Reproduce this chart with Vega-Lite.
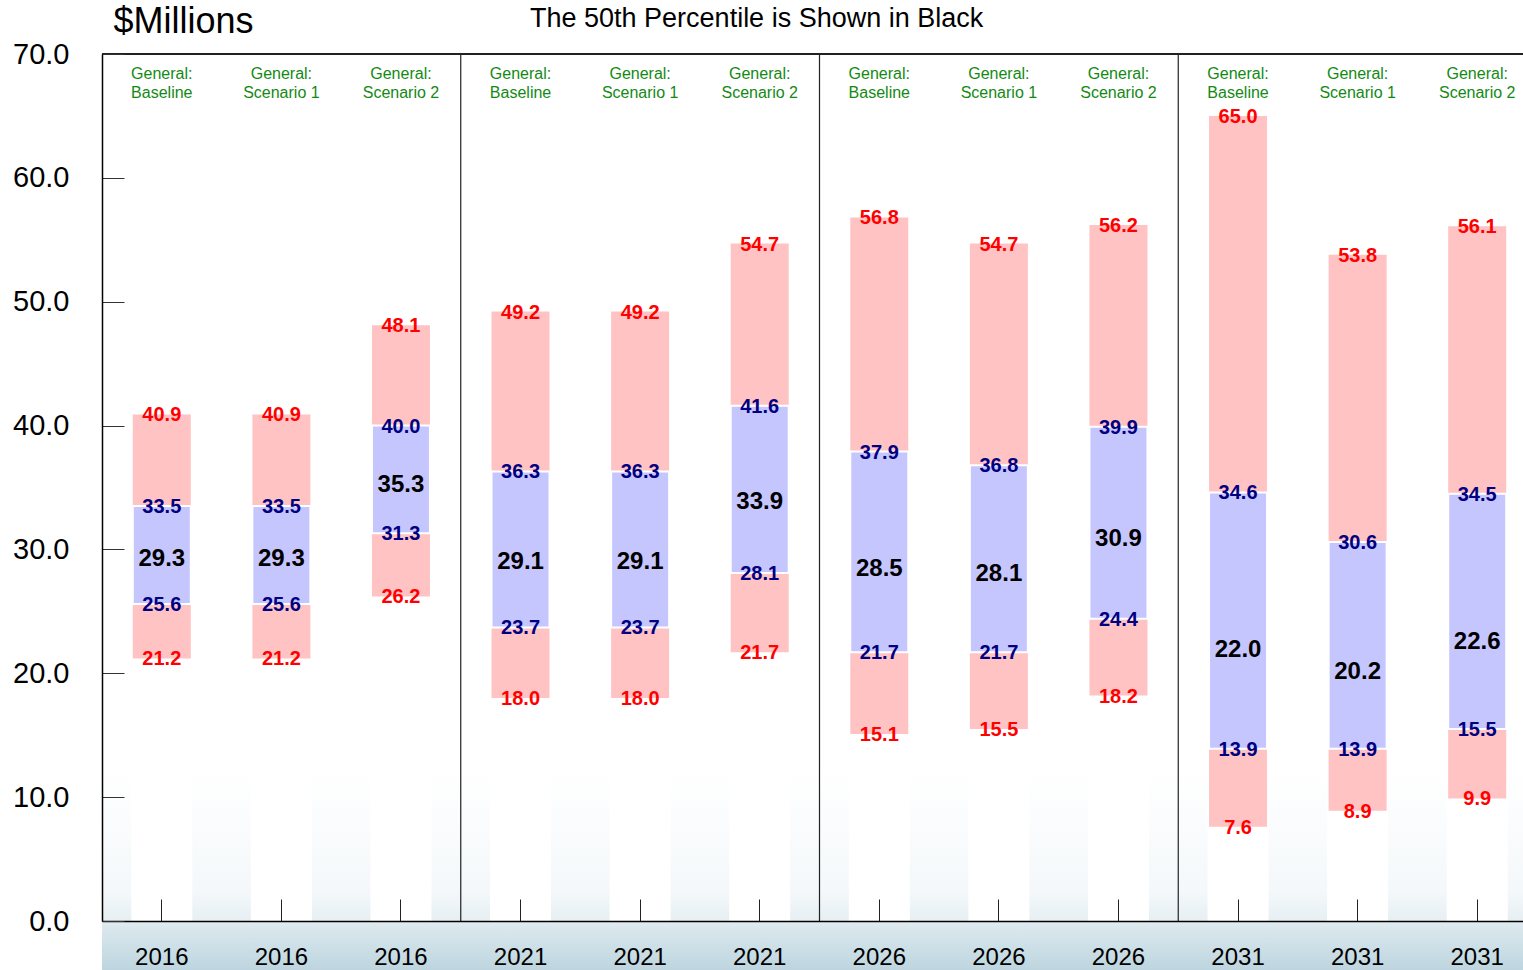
{
  "$schema": "https://vega.github.io/schema/vega-lite/v6.json",
  "autosize": "none",
  "padding": {"left": 102, "top": 54, "right": 0, "bottom": 49},
  "width": 1421,
  "height": 867,
  "background": "white",
  "config": {"view": {"stroke": null}, "font": "Liberation Sans"},
  "title": {
    "text": "The 50th Percentile is Shown in Black",
    "fontSize": 27,
    "fontWeight": "normal",
    "font": "Liberation Sans",
    "color": "black",
    "anchor": "start",
    "frame": "group",
    "dx": 428,
    "offset": -30
  },
  "data": {
    "values": [
      {"bar": "2016 Baseline", "grp": "General:", "scen": "Baseline", "lo": 21.2, "p25": 25.6, "med": 29.3, "p75": 33.5, "hi": 40.9},
      {"bar": "2016 Scenario 1", "grp": "General:", "scen": "Scenario 1", "lo": 21.2, "p25": 25.6, "med": 29.3, "p75": 33.5, "hi": 40.9},
      {"bar": "2016 Scenario 2", "grp": "General:", "scen": "Scenario 2", "lo": 26.2, "p25": 31.3, "med": 35.3, "p75": 40.0, "hi": 48.1},
      {"bar": "2021 Baseline", "grp": "General:", "scen": "Baseline", "lo": 18.0, "p25": 23.7, "med": 29.1, "p75": 36.3, "hi": 49.2},
      {"bar": "2021 Scenario 1", "grp": "General:", "scen": "Scenario 1", "lo": 18.0, "p25": 23.7, "med": 29.1, "p75": 36.3, "hi": 49.2},
      {"bar": "2021 Scenario 2", "grp": "General:", "scen": "Scenario 2", "lo": 21.7, "p25": 28.1, "med": 33.9, "p75": 41.6, "hi": 54.7},
      {"bar": "2026 Baseline", "grp": "General:", "scen": "Baseline", "lo": 15.1, "p25": 21.7, "med": 28.5, "p75": 37.9, "hi": 56.8},
      {"bar": "2026 Scenario 1", "grp": "General:", "scen": "Scenario 1", "lo": 15.5, "p25": 21.7, "med": 28.1, "p75": 36.8, "hi": 54.7},
      {"bar": "2026 Scenario 2", "grp": "General:", "scen": "Scenario 2", "lo": 18.2, "p25": 24.4, "med": 30.9, "p75": 39.9, "hi": 56.2},
      {"bar": "2031 Baseline", "grp": "General:", "scen": "Baseline", "lo": 7.6, "p25": 13.9, "med": 22.0, "p75": 34.6, "hi": 65.0},
      {"bar": "2031 Scenario 1", "grp": "General:", "scen": "Scenario 1", "lo": 8.9, "p25": 13.9, "med": 20.2, "p75": 30.6, "hi": 53.8},
      {"bar": "2031 Scenario 2", "grp": "General:", "scen": "Scenario 2", "lo": 9.9, "p25": 15.5, "med": 22.6, "p75": 34.5, "hi": 56.1}
    ]
  },
  "encoding": {
    "x": {
      "field": "bar",
      "type": "nominal",
      "sort": null,
      "scale": {"range": [0, 1435], "paddingInner": 0, "paddingOuter": 0},
      "axis": {
        "title": null,
        "zindex": 2,
        "labelExpr": "split(datum.label, ' ')[0]",
        "labelAngle": 0,
        "labelFontSize": 24,
        "labelColor": "black",
        "labelFont": "Liberation Sans",
        "labelPadding": 46,
        "tickSize": -22,
        "tickColor": "#222",
        "domainColor": "black",
        "domainWidth": 1.5
      }
    }
  },
  "layer": [
    {
      "mark": {"type": "rect", "fill": {"gradient": "linear", "x1": 0, "y1": 0, "x2": 0, "y2": 1, "stops": [{"offset": 0, "color": "#ffffff"}, {"offset": 0.6, "color": "#f4f8fa"}, {"offset": 0.75, "color": "#e6eff3"}, {"offset": 0.77, "color": "#dce9ee"}, {"offset": 1, "color": "#bdd5df"}]}},
      "encoding": {"x": null, "y": {"datum": 12}, "y2": {"datum": -4}}
    },
    {
      "mark": {"type": "bar", "color": "white", "width": 61},
      "encoding": {
        "y": {"datum": 0, "type": "quantitative", "scale": {"domain": [0, 70], "nice": false}, "axis": {
          "values": [0, 10, 20, 30, 40, 50, 60, 70],
          "format": ".1f",
          "zindex": 2,
          "title": "$Millions",
          "titleAngle": 0,
          "titleAlign": "left",
          "titleBaseline": "middle",
          "titleX": 11,
          "titleY": -33,
          "titleFontSize": 36,
          "titleFontWeight": "normal",
          "titleFont": "Liberation Sans",
          "titleColor": "black",
          "labelFontSize": 29,
          "labelColor": "black",
          "labelFont": "Liberation Sans",
          "labelPadding": 55,
          "tickSize": -22,
          "tickColor": "#333",
          "grid": false,
          "domainColor": "black",
          "domainWidth": 1.5
        }},
        "y2": {"datum": 70}
      }
    },
    {
      "mark": {"type": "bar", "color": "#ffc3c3", "width": 58},
      "encoding": {"y": {"field": "lo", "type": "quantitative"}, "y2": {"field": "hi"}}
    },
    {
      "mark": {"type": "bar", "color": "#c6c6ff", "width": 58, "stroke": "white", "strokeWidth": 2},
      "encoding": {"y": {"field": "p25", "type": "quantitative"}, "y2": {"field": "p75"}}
    },
    {
      "transform": [{"filter": "datum.scen == 'Baseline' && datum.bar != '2016 Baseline'"}],
      "mark": {"type": "rule", "color": "#222", "strokeWidth": 1.2},
      "encoding": {"x": {"field": "bar", "type": "nominal", "bandPosition": 0}}
    },
    {
      "mark": {"type": "rule", "color": "#222", "strokeWidth": 1.5},
      "encoding": {"x": null, "y": {"datum": 70}}
    },
    {
      "transform": [{"fold": ["lo", "hi"], "as": ["k", "v"]}],
      "mark": {"type": "text", "color": "#ff0000", "fontSize": 20, "fontWeight": "bold", "baseline": "middle", "dy": 1},
      "encoding": {"y": {"field": "v", "type": "quantitative"}, "text": {"field": "v", "type": "quantitative", "format": ".1f"}}
    },
    {
      "transform": [{"fold": ["p25", "p75"], "as": ["k", "v"]}],
      "mark": {"type": "text", "color": "#000080", "fontSize": 20, "fontWeight": "bold", "baseline": "middle", "dy": 1},
      "encoding": {"y": {"field": "v", "type": "quantitative"}, "text": {"field": "v", "type": "quantitative", "format": ".1f"}}
    },
    {
      "mark": {"type": "text", "color": "black", "fontSize": 24, "fontWeight": "bold", "baseline": "middle", "dy": 1},
      "encoding": {"y": {"field": "med", "type": "quantitative"}, "text": {"field": "med", "type": "quantitative", "format": ".1f"}}
    },
    {
      "transform": [{"calculate": "[datum.grp, datum.scen]", "as": "lab"}],
      "mark": {"type": "text", "color": "#138a13", "fontSize": 16, "baseline": "middle", "lineHeight": 19},
      "encoding": {"y": {"datum": 68.4}, "text": {"field": "lab"}}
    }
  ]
}
